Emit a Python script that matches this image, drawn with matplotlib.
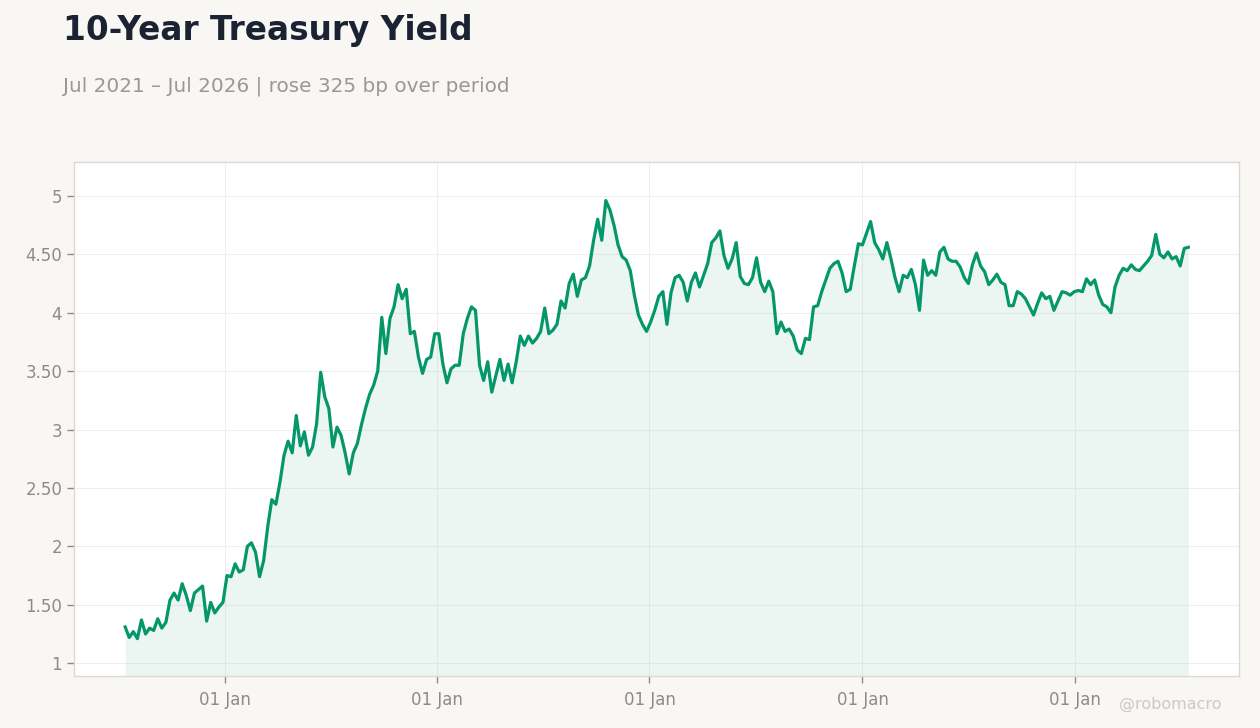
import numpy as np
import pandas as pd
import matplotlib
matplotlib.use("Agg")
import matplotlib.pyplot as plt
import matplotlib.dates as mdates
from matplotlib.ticker import FuncFormatter

# weekly 10y yield (%), starting mid Jul 2021
start_date = "2021-07-14"
yield_pct = [
    1.31, 1.22, 1.27, 1.21, 1.37, 1.25, 1.30, 1.28, 1.38, 1.30,
    1.35, 1.54, 1.60, 1.54, 1.68, 1.58, 1.45, 1.60, 1.63, 1.66,
    1.36, 1.52, 1.43, 1.48, 1.52, 1.75, 1.74, 1.85, 1.78, 1.80,
    2.00, 2.03, 1.95, 1.74, 1.88, 2.17, 2.40, 2.36, 2.55, 2.78,
    2.90, 2.80, 3.12, 2.86, 2.98, 2.78, 2.85, 3.05, 3.49, 3.28,
    3.18, 2.85, 3.02, 2.95, 2.80, 2.62, 2.80, 2.88, 3.04, 3.18,
    3.30, 3.38, 3.50, 3.96, 3.65, 3.95, 4.05, 4.24, 4.12, 4.20,
    3.82, 3.84, 3.62, 3.48, 3.60, 3.62, 3.82, 3.82, 3.56, 3.40,
    3.52, 3.55, 3.55, 3.82, 3.95, 4.05, 4.02, 3.55, 3.42, 3.58,
    3.32, 3.46, 3.60, 3.42, 3.56, 3.40, 3.58, 3.80, 3.72, 3.80,
    3.74, 3.78, 3.84, 4.04, 3.82, 3.85, 3.90, 4.10, 4.04, 4.25,
    4.33, 4.14, 4.28, 4.30, 4.40, 4.62, 4.80, 4.62, 4.96, 4.88,
    4.75, 4.58, 4.48, 4.45, 4.36, 4.15, 3.98, 3.90, 3.84, 3.92,
    4.02, 4.14, 4.18, 3.90, 4.17, 4.30, 4.32, 4.26, 4.10, 4.26,
    4.34, 4.22, 4.32, 4.42, 4.60, 4.64, 4.70, 4.49, 4.38, 4.46,
    4.60, 4.31, 4.25, 4.24, 4.30, 4.47, 4.26, 4.18, 4.27, 4.18,
    3.82, 3.92, 3.84, 3.86, 3.80, 3.68, 3.65, 3.78, 3.77, 4.05,
    4.06, 4.18, 4.28, 4.38, 4.42, 4.44, 4.34, 4.18, 4.20, 4.40,
    4.59, 4.58, 4.68, 4.78, 4.60, 4.54, 4.46, 4.60, 4.46, 4.30,
    4.18, 4.32, 4.30, 4.37, 4.24, 4.02, 4.45, 4.32, 4.36, 4.32,
    4.52, 4.56, 4.46, 4.44, 4.44, 4.39, 4.30, 4.25, 4.41, 4.51,
    4.40, 4.35, 4.24, 4.28, 4.33, 4.26, 4.24, 4.06, 4.06, 4.18,
    4.16, 4.12, 4.05, 3.98, 4.08, 4.17, 4.12, 4.14, 4.02, 4.10,
    4.18, 4.17, 4.15, 4.18, 4.19, 4.18, 4.29, 4.24, 4.28, 4.15,
    4.07, 4.05, 4.00, 4.22, 4.32, 4.38, 4.36, 4.41, 4.37, 4.36,
    4.40, 4.44, 4.49, 4.67, 4.50, 4.47, 4.52, 4.46, 4.48, 4.40,
    4.55, 4.56,
]
y_ticks = [1, 1.5, 2, 2.5, 3, 3.5, 4, 4.5, 5]
x_view = ["2021-04-17", "2026-10-10"]

title = "10-Year Treasury Yield"
subtitle = "Jul 2021 \u2013 Jul 2026 | rose 325 bp over period"
handle = "@robomacro"

GREEN = "#05976a"
BG = "#f8f7f4"
GRAY = "#8f8a85"
EDGE = "#ddd8d0"

dates = pd.date_range(start_date, periods=len(yield_pct), freq="7D")
vals = np.array(yield_pct)

fig = plt.figure(figsize=(12.6, 7.28), dpi=100, facecolor=BG)
ax = fig.add_axes([0.0587, 0.0714, 0.9246, 0.7061])
ax.set_facecolor("white")

ax.fill_between(dates, vals, 0, color=GREEN, alpha=0.08, linewidth=0)
ax.plot(dates, vals, color=GREEN, linewidth=2.3, solid_joinstyle="round")

ax.set_xlim(pd.Timestamp(x_view[0]), pd.Timestamp(x_view[1]))
ax.set_ylim(0.89, 5.29)
ax.set_yticks(y_ticks)
ax.yaxis.set_major_formatter(FuncFormatter(
    lambda v, p: f"{v:.0f}" if abs(v - round(v)) < 1e-9 else f"{v:.2f}"))
ax.xaxis.set_major_locator(mdates.YearLocator())
ax.xaxis.set_major_formatter(mdates.DateFormatter("%d %b"))

ax.grid(True, color="#efefef", linewidth=0.8)
ax.set_axisbelow(True)
for s in ax.spines.values():
    s.set_color(EDGE)
    s.set_linewidth(1)
ax.tick_params(colors=GRAY, labelsize=12, length=5, width=1)
ax.tick_params(axis="x", pad=6)

fig.text(0.05, 0.945, title, fontsize=23.6, fontweight="bold",
         color="#1b2333", va="baseline")
fig.text(0.05, 0.874, subtitle, fontsize=14.4, color="#9b9792",
         va="baseline")
fig.text(0.9286, 0.032, handle, fontsize=11.5, color="#cdc9c3",
         ha="center", va="center")

fig.savefig("out.png", dpi=100, facecolor=BG)
